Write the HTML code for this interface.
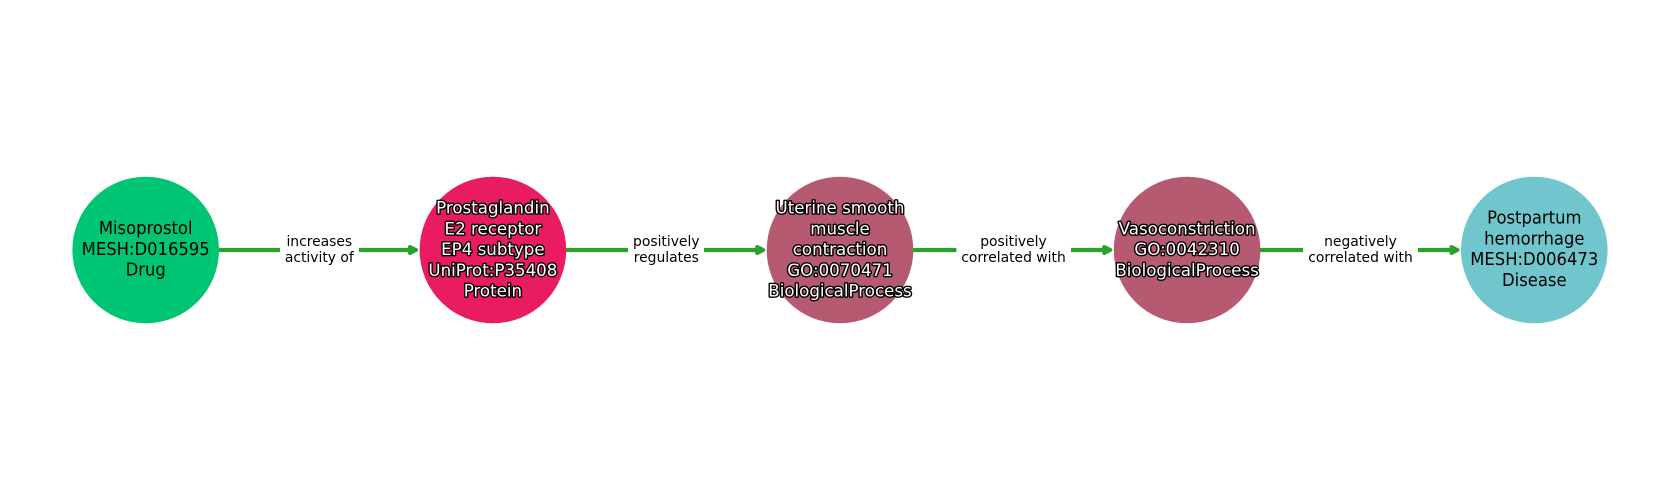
<!DOCTYPE html>
<html><head><meta charset="utf-8"><style>
html,body{margin:0;padding:0;background:#fff;width:1680px;height:500px;overflow:hidden}
svg{display:block}
text{font-family:"DejaVu Sans","Liberation Sans",sans-serif;text-anchor:middle}
.n{font-size:16.67px;fill:#000;transform-box:fill-box;transform-origin:center;transform:scale(.985,1.045)}
.o{font-size:16.67px;fill:#fff;stroke:#000;stroke-width:2.8px;paint-order:stroke;stroke-linejoin:round}
.e{font-size:13.89px;fill:#000}
.l{stroke:#2ca02c;stroke-width:4.2;fill:none}
.h{fill:#2ca02c;stroke:#2ca02c;stroke-width:4;stroke-linejoin:round}
</style></head><body>
<svg xmlns="http://www.w3.org/2000/svg" width="1680" height="500" viewBox="0 0 1680 500">
<rect width="1680" height="500" fill="#fff"/>
<circle cx="145.7" cy="250" r="73.3" fill="#00c573"/>
<circle cx="492.9" cy="250" r="73.3" fill="#e91b63"/>
<circle cx="840" cy="250" r="73.3" fill="#b65a71"/>
<circle cx="1187.1" cy="250" r="73.3" fill="#b65a71"/>
<circle cx="1534.3" cy="250" r="73.3" fill="#70c6cc"/>

<path class="l" d="M219 250H280M359 250H410"/>
<path class="h" d="M410 247L416 250L410 253Z"/>
<path class="l" d="M566 250H628M704 250H757"/>
<path class="h" d="M757.200 247L763.200 250L757.200 253Z"/>
<path class="l" d="M913 250H956.400M1071 250H1104"/>
<path class="h" d="M1104.300 247L1110.300 250L1104.300 253Z"/>
<path class="l" d="M1260 250H1303M1418 250H1452"/>
<path class="h" d="M1451.500 247L1457.500 250L1451.500 253Z"/>

<text class="e" x="319.3" y="246">increases</text><text class="e" x="319.3" y="262">activity of</text>
<text class="e" x="666.3" y="246">positively</text><text class="e" x="666.3" y="262">regulates</text>
<text class="e" x="1013.500" y="246">positively</text><text class="e" x="1013.500" y="262">correlated with</text>
<text class="e" x="1360.500" y="246">negatively</text><text class="e" x="1360.500" y="262">correlated with</text>

<text class="n" x="145.7" y="233.7">Misoprostol</text>
<text class="n" x="145.7" y="254.7">MESH:D016595</text>
<text class="n" x="145.7" y="275.200">Drug</text>

<text class="o" x="492.9" y="213.7">Prostaglandin</text>
<text class="o" x="492.9" y="234.4">E2 receptor</text>
<text class="o" x="492.9" y="255.200">EP4 subtype</text>
<text class="o" x="492.9" y="275.900">UniProt:P35408</text>
<text class="o" x="492.9" y="296.700">Protein</text>

<text class="o" x="840" y="213.7">Uterine smooth</text>
<text class="o" x="840" y="234.4">muscle</text>
<text class="o" x="840" y="255.200">contraction</text>
<text class="o" x="840" y="275.900">GO:0070471</text>
<text class="o" x="840" y="296.700">BiologicalProcess</text>

<text class="o" x="1187.1" y="234.4">Vasoconstriction</text>
<text class="o" x="1187.1" y="255.200">GO:0042310</text>
<text class="o" x="1187.1" y="275.900">BiologicalProcess</text>

<text class="n" x="1534.3" y="223.200">Postpartum</text>
<text class="n" x="1534.3" y="244.200">hemorrhage</text>
<text class="n" x="1534.3" y="264.700">MESH:D006473</text>
<text class="n" x="1534.3" y="285.700">Disease</text>
</svg>
</body></html>
